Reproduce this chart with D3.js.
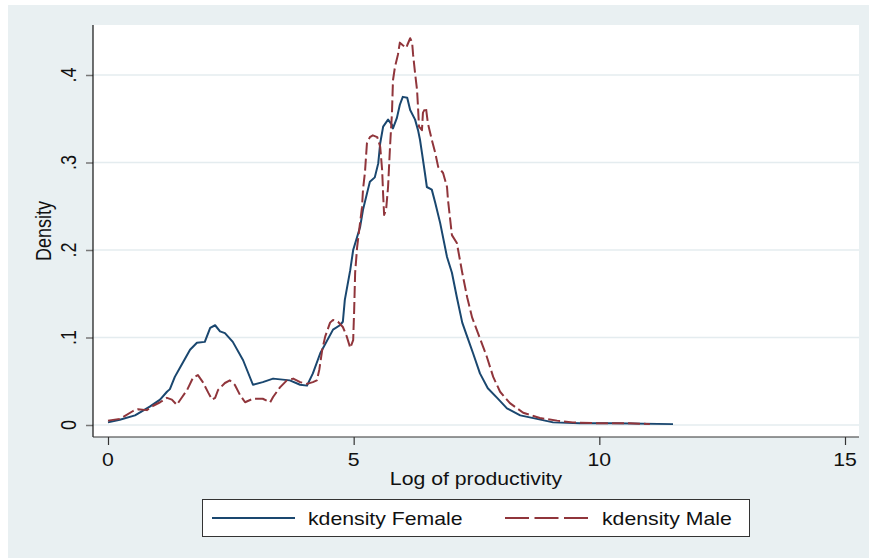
<!DOCTYPE html>
<html>
<head>
<meta charset="utf-8">
<script src="https://cdn.jsdelivr.net/npm/d3@7"></script>
<style>
  body { margin: 0; background: #ffffff; }
  text { font-family: "Liberation Sans", Arial, sans-serif; fill: #111; }
</style>
</head>
<body>
<div id="chart"></div>
<script>
// data: log productivity (x) and density (y)
var femaleX = [0.00, 0.24, 0.55, 0.85, 1.06, 1.20, 1.26, 1.36, 1.47, 1.67, 1.81, 1.97, 2.08, 2.18, 2.28, 2.38, 2.54, 2.75, 2.95, 3.15, 3.36, 3.70, 3.91, 4.05, 4.17, 4.32, 4.58, 4.72, 4.78, 4.82, 4.93, 4.99, 5.13, 5.19, 5.29, 5.33, 5.43, 5.50, 5.54, 5.60, 5.70, 5.78, 5.80, 5.88, 5.94, 6.00, 6.09, 6.15, 6.25, 6.31, 6.35, 6.39, 6.45, 6.49, 6.59, 6.66, 6.76, 6.90, 7.00, 7.10, 7.21, 7.31, 7.43, 7.57, 7.73, 7.92, 8.12, 8.39, 8.73, 9.06, 9.61, 10.28, 11.50];
var femaleY = [0.003, 0.006, 0.011, 0.021, 0.029, 0.038, 0.041, 0.055, 0.066, 0.086, 0.094, 0.095, 0.111, 0.114, 0.107, 0.105, 0.095, 0.074, 0.046, 0.049, 0.053, 0.051, 0.046, 0.045, 0.059, 0.082, 0.109, 0.114, 0.118, 0.143, 0.177, 0.200, 0.226, 0.246, 0.269, 0.278, 0.283, 0.299, 0.322, 0.341, 0.349, 0.343, 0.339, 0.351, 0.366, 0.375, 0.374, 0.360, 0.349, 0.337, 0.326, 0.311, 0.288, 0.272, 0.269, 0.254, 0.231, 0.192, 0.174, 0.146, 0.117, 0.101, 0.082, 0.059, 0.042, 0.031, 0.019, 0.011, 0.007, 0.003, 0.002, 0.002, 0.001];

var maleX = [0.00, 0.24, 0.51, 0.61, 0.79, 0.92, 1.06, 1.20, 1.30, 1.40, 1.51, 1.61, 1.73, 1.83, 1.93, 2.04, 2.12, 2.18, 2.24, 2.38, 2.48, 2.58, 2.69, 2.79, 2.95, 3.15, 3.30, 3.36, 3.50, 3.64, 3.77, 3.91, 4.05, 4.17, 4.25, 4.30, 4.36, 4.42, 4.52, 4.58, 4.68, 4.78, 4.86, 4.93, 4.99, 5.01, 5.03, 5.07, 5.13, 5.17, 5.19, 5.23, 5.27, 5.33, 5.39, 5.48, 5.54, 5.58, 5.60, 5.62, 5.66, 5.70, 5.74, 5.78, 5.80, 5.84, 5.90, 5.94, 6.00, 6.07, 6.09, 6.15, 6.19, 6.21, 6.25, 6.29, 6.31, 6.33, 6.39, 6.41, 6.47, 6.51, 6.59, 6.66, 6.72, 6.82, 6.90, 6.92, 7.00, 7.10, 7.21, 7.31, 7.41, 7.53, 7.71, 7.84, 7.98, 8.18, 8.45, 8.79, 9.14, 9.46, 9.95, 10.62, 11.03];
var maleY = [0.005, 0.007, 0.016, 0.018, 0.017, 0.022, 0.026, 0.031, 0.029, 0.023, 0.032, 0.040, 0.054, 0.057, 0.049, 0.037, 0.029, 0.031, 0.040, 0.048, 0.051, 0.046, 0.034, 0.026, 0.030, 0.030, 0.026, 0.032, 0.043, 0.051, 0.053, 0.049, 0.047, 0.049, 0.051, 0.063, 0.086, 0.101, 0.117, 0.120, 0.118, 0.112, 0.101, 0.088, 0.097, 0.131, 0.174, 0.203, 0.231, 0.249, 0.269, 0.289, 0.322, 0.329, 0.331, 0.329, 0.318, 0.291, 0.263, 0.240, 0.246, 0.272, 0.318, 0.357, 0.394, 0.409, 0.423, 0.437, 0.434, 0.431, 0.434, 0.442, 0.437, 0.423, 0.402, 0.383, 0.363, 0.341, 0.337, 0.357, 0.363, 0.345, 0.326, 0.311, 0.295, 0.288, 0.272, 0.257, 0.217, 0.208, 0.174, 0.146, 0.123, 0.105, 0.078, 0.055, 0.038, 0.025, 0.014, 0.008, 0.005, 0.003, 0.002, 0.002, 0.001];

var xTicks = [0, 5, 10, 15];
var yTicks = [0, 0.1, 0.2, 0.3, 0.4];
var yTickLabels = ["0", ".1", ".2", ".3", ".4"];
var seriesNames = ["kdensity Female", "kdensity Male"];

var svgWidth = 869;
var svgHeight = 558;
var stretch = 1.18; // the picture's text is a bit wide

var plot = { left: 93, right: 859, top: 25, bottom: 437 };

var svg = d3.select("#chart")
  .append("svg")
  .attr("width", svgWidth)
  .attr("height", svgHeight);

// outer background
svg.append("rect")
  .attr("x", 8).attr("y", 5)
  .attr("width", svgWidth - 8).attr("height", svgHeight - 5)
  .attr("fill", "#e9f0f2");

// plot region
svg.append("rect")
  .attr("x", plot.left).attr("y", plot.top)
  .attr("width", plot.right - plot.left).attr("height", plot.bottom - plot.top)
  .attr("fill", "#ffffff");

var xScale = d3.scaleLinear().domain([0, 15]).range([108, 845]);
var yScale = d3.scaleLinear().domain([0, 0.4]).range([425, 75]);

// grid lines
svg.selectAll(".grid")
  .data(yTicks)
  .enter()
  .append("line")
  .attr("x1", plot.left).attr("x2", plot.right)
  .attr("y1", d => yScale(d)).attr("y2", d => yScale(d))
  .attr("stroke", "#e4ecef")
  .attr("stroke-width", 1.6);

// y axis
var leftAxis = d3.axisLeft(yScale)
  .tickValues(yTicks)
  .tickSize(7)
  .tickFormat("");
var yAxisG = svg.append("g")
  .attr("transform", `translate(${plot.left},0)`)
  .call(leftAxis);
yAxisG.select(".domain").remove();
yAxisG.selectAll(".tick line").attr("stroke", "#777").attr("stroke-width", 1.5);
svg.append("line")
  .attr("x1", plot.left).attr("x2", plot.left)
  .attr("y1", plot.top).attr("y2", plot.bottom)
  .attr("stroke", "#111").attr("stroke-width", 1.2);

// x axis
var bottomAxis = d3.axisBottom(xScale)
  .tickValues(xTicks)
  .tickSize(8)
  .tickFormat("");
var xAxisG = svg.append("g")
  .attr("transform", `translate(0,${plot.bottom})`)
  .call(bottomAxis);
xAxisG.select(".domain").remove();
xAxisG.selectAll(".tick line").attr("stroke", "#333").attr("stroke-width", 1.2);
svg.append("line")
  .attr("x1", plot.left).attr("x2", plot.right)
  .attr("y1", plot.bottom).attr("y2", plot.bottom)
  .attr("stroke", "#333").attr("stroke-width", 1.2);

// tick labels
svg.selectAll(".ylab")
  .data(yTicks)
  .enter()
  .append("text")
  .attr("transform", d => `translate(76,${yScale(d)}) scale(${stretch},1) rotate(-90)`)
  .attr("text-anchor", "middle")
  .style("font-size", "18px")
  .text((d, i) => yTickLabels[i]);

svg.selectAll(".xlab")
  .data(xTicks)
  .enter()
  .append("text")
  .attr("transform", d => `translate(${xScale(d)},466) scale(${stretch},1)`)
  .attr("text-anchor", "middle")
  .style("font-size", "18px")
  .text(d => d);

// axis titles
svg.append("text")
  .attr("transform", `translate(51,${(plot.top + plot.bottom) / 2}) scale(${stretch},1) rotate(-90)`)
  .attr("text-anchor", "middle")
  .style("font-size", "18px")
  .text("Density");

svg.append("text")
  .attr("transform", `translate(${(plot.left + plot.right) / 2},485) scale(${stretch},1)`)
  .attr("text-anchor", "middle")
  .style("font-size", "18px")
  .text("Log of productivity");

// lines
var line = d3.line()
  .x(d => xScale(d[0]))
  .y(d => yScale(d[1]));

var female = femaleX.map((x, i) => [x, femaleY[i]]);
var male = maleX.map((x, i) => [x, maleY[i]]);

svg.append("path")
  .datum(female)
  .attr("d", line)
  .attr("fill", "none")
  .attr("stroke", "#1a476f")
  .attr("stroke-width", 2)
  .attr("stroke-linejoin", "round");

svg.append("path")
  .datum(male)
  .attr("d", line)
  .attr("fill", "none")
  .attr("stroke", "#90353b")
  .attr("stroke-width", 2)
  .attr("stroke-dasharray", "12,4")
  .attr("stroke-linejoin", "round");

// legend
svg.append("rect")
  .attr("x", 202.5).attr("y", 499.5)
  .attr("width", 547).attr("height", 37)
  .attr("fill", "#ffffff")
  .attr("stroke", "#333")
  .attr("stroke-width", 1);

svg.append("line")
  .attr("x1", 212).attr("x2", 295)
  .attr("y1", 518).attr("y2", 518)
  .attr("stroke", "#1a476f").attr("stroke-width", 2);

svg.append("line")
  .attr("x1", 505).attr("x2", 588)
  .attr("y1", 518).attr("y2", 518)
  .attr("stroke", "#90353b").attr("stroke-width", 2)
  .attr("stroke-dasharray", "24,5.5");

svg.append("text")
  .attr("transform", `translate(308,525) scale(${stretch},1)`)
  .style("font-size", "18px")
  .text(seriesNames[0]);

svg.append("text")
  .attr("transform", `translate(602,525) scale(${stretch},1)`)
  .style("font-size", "18px")
  .text(seriesNames[1]);
</script>
</body>
</html>
